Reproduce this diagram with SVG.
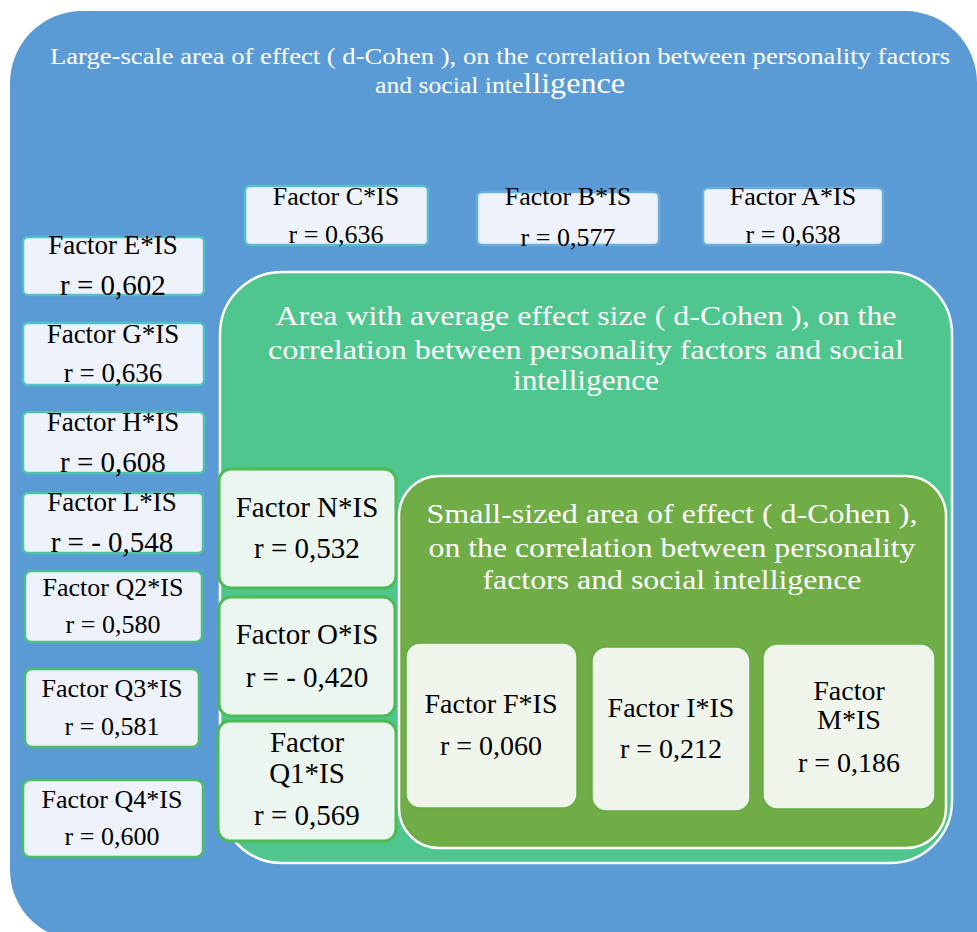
<svg xmlns="http://www.w3.org/2000/svg" width="977" height="932" viewBox="0 0 977 932">
<style>
  text { font-family: "Liberation Serif", "Times New Roman", serif; text-anchor: middle; }
  .w { fill: #ffffff; }
  .k { fill: #000000; }
  .bb { fill: #EEF2FA; stroke-width: 2.5; }
  .gb { fill: #EAF6EF; stroke: #4DBA55; stroke-width: 3; }
  .sb { fill: #F0F5EC; stroke: #63AE44; stroke-width: 1.5; }
  .t26 { font-size: 26px; }
  .t27 { font-size: 27px; }
  .t29 { font-size: 29px; }
  .t28 { font-size: 28px; }
</style>
<rect width="977" height="932" fill="#ffffff"/>
<g id="large-area">
  <path d="M82,11 H905 A72,72 0 0 1 977,83 V940 H80 A70,70 0 0 1 10,870 V83 A72,72 0 0 1 82,11 Z" fill="#5B9BD5"/>
  <text class="w" x="500" y="64" font-size="24" textLength="900" lengthAdjust="spacingAndGlyphs">Large-scale area of effect ( d-Cohen ), on the correlation between personality factors</text>
  <text class="w" x="500" y="93" font-size="24" textLength="250" lengthAdjust="spacingAndGlyphs">and social inte<tspan font-size="30">lligence</tspan></text>
</g>
<g id="factor-C">
  <rect class="bb" stroke="#55BFCB" x="245" y="186" width="183" height="59" rx="5"/>
  <text class="k t26" x="336" y="205">Factor C*IS</text>
  <text class="k t26" x="336" y="243">r = 0,636</text>
</g>
<g id="factor-B">
  <rect class="bb" stroke="#69AEDD" x="477" y="192" width="182" height="53" rx="5"/>
  <text class="k t26" x="568" y="205">Factor B*IS</text>
  <text class="k t26" x="568" y="246">r = 0,577</text>
</g>
<g id="factor-A">
  <rect class="bb" stroke="#69AEDD" x="703" y="188" width="180" height="57" rx="5"/>
  <text class="k t26" x="793" y="205">Factor A*IS</text>
  <text class="k t26" x="793" y="243">r = 0,638</text>
</g>
<g id="factor-E">
  <rect class="bb" stroke="#52C0C8" x="23" y="237" width="181" height="58" rx="5"/>
  <text class="k t27" x="113" y="254">Factor E*IS</text>
  <text class="k t29" x="113" y="295">r = 0,602</text>
</g>
<g id="factor-G">
  <rect class="bb" stroke="#52C2C6" x="23" y="323" width="181" height="62" rx="5"/>
  <text class="k t27" x="113" y="343">Factor G*IS</text>
  <text class="k t27" x="113" y="382">r = 0,636</text>
</g>
<g id="factor-H">
  <rect class="bb" stroke="#4FC3AE" x="23" y="412" width="181" height="61" rx="5"/>
  <text class="k t27" x="113" y="431">Factor H*IS</text>
  <text class="k t29" x="113" y="472">r = 0,608</text>
</g>
<g id="factor-L">
  <rect class="bb" stroke="#4FC3A6" x="23" y="493" width="180" height="60" rx="5"/>
  <text class="k t27" x="112" y="511">Factor L*IS</text>
  <text class="k t29" x="112" y="552">r = - 0,548</text>
</g>
<g id="factor-Q2">
  <rect class="bb" stroke="#4DC08A" x="25" y="571" width="177" height="71" rx="6"/>
  <text class="k t26" x="113" y="596">Factor Q2*IS</text>
  <text class="k t26" x="113" y="633">r = 0,580</text>
</g>
<g id="factor-Q3">
  <rect class="bb" stroke="#4CBE70" x="25" y="669" width="174" height="78" rx="7"/>
  <text class="k t26" x="112" y="697">Factor Q3*IS</text>
  <text class="k t26" x="112" y="735">r = 0,581</text>
</g>
<g id="factor-Q4">
  <rect class="bb" stroke="#4CBE66" x="23" y="780" width="180" height="77" rx="7"/>
  <text class="k t26" x="112" y="808">Factor Q4*IS</text>
  <text class="k t26" x="112" y="845">r = 0,600</text>
</g>
<g id="medium-area">
  <rect x="220" y="272" width="732" height="591" rx="62" fill="#4FC68D" stroke="#ffffff" stroke-width="2.5"/>
  <text class="w t28" x="586" y="325" textLength="621" lengthAdjust="spacingAndGlyphs">Area with average effect size ( d-Cohen ), on the</text>
  <text class="w t28" x="586" y="359" textLength="636" lengthAdjust="spacingAndGlyphs">correlation between personality factors and social</text>
  <text class="w" x="586" y="390" font-size="30" textLength="146" lengthAdjust="spacingAndGlyphs">intelligence</text>
</g>
<g id="factor-N">
  <rect class="gb" x="219" y="469" width="177" height="119" rx="12"/>
  <text class="k t29" x="307" y="517">Factor N*IS</text>
  <text class="k t29" x="307" y="558">r = 0,532</text>
</g>
<g id="factor-O">
  <rect class="gb" x="219" y="597" width="176" height="119" rx="12"/>
  <text class="k t29" x="307" y="644">Factor O*IS</text>
  <text class="k t29" x="307" y="687">r = - 0,420</text>
</g>
<g id="factor-Q1">
  <rect class="gb" x="218" y="721" width="178" height="120" rx="12"/>
  <text class="k t29" x="307" y="752">Factor</text>
  <text class="k t29" x="307" y="783">Q1*IS</text>
  <text class="k t29" x="307" y="825">r = 0,569</text>
</g>
<g id="small-area">
  <rect x="399" y="476" width="547" height="372" rx="40" fill="#70AD47" stroke="#ffffff" stroke-width="2.5"/>
  <text class="w t28" x="672" y="523" textLength="491" lengthAdjust="spacingAndGlyphs">Small-sized area of effect ( d-Cohen ),</text>
  <text class="w t28" x="672" y="557" textLength="487" lengthAdjust="spacingAndGlyphs">on the correlation between personality</text>
  <text class="w t28" x="672" y="589" textLength="379" lengthAdjust="spacingAndGlyphs">factors and social intelligence</text>
</g>
<g id="factor-F">
  <rect class="sb" x="406" y="643" width="171" height="165" rx="14"/>
  <text class="k t28" x="491" y="713">Factor F*IS</text>
  <text class="k t28" x="491" y="755">r = 0,060</text>
</g>
<g id="factor-I">
  <rect class="sb" x="592" y="647" width="158" height="164" rx="14"/>
  <text class="k t28" x="671" y="717">Factor I*IS</text>
  <text class="k t28" x="671" y="758">r = 0,212</text>
</g>
<g id="factor-M">
  <rect class="sb" x="763" y="644" width="172" height="165" rx="14"/>
  <text class="k t28" x="849" y="700">Factor</text>
  <text class="k t28" x="849" y="729">M*IS</text>
  <text class="k t28" x="849" y="772">r = 0,186</text>
</g>
</svg>
